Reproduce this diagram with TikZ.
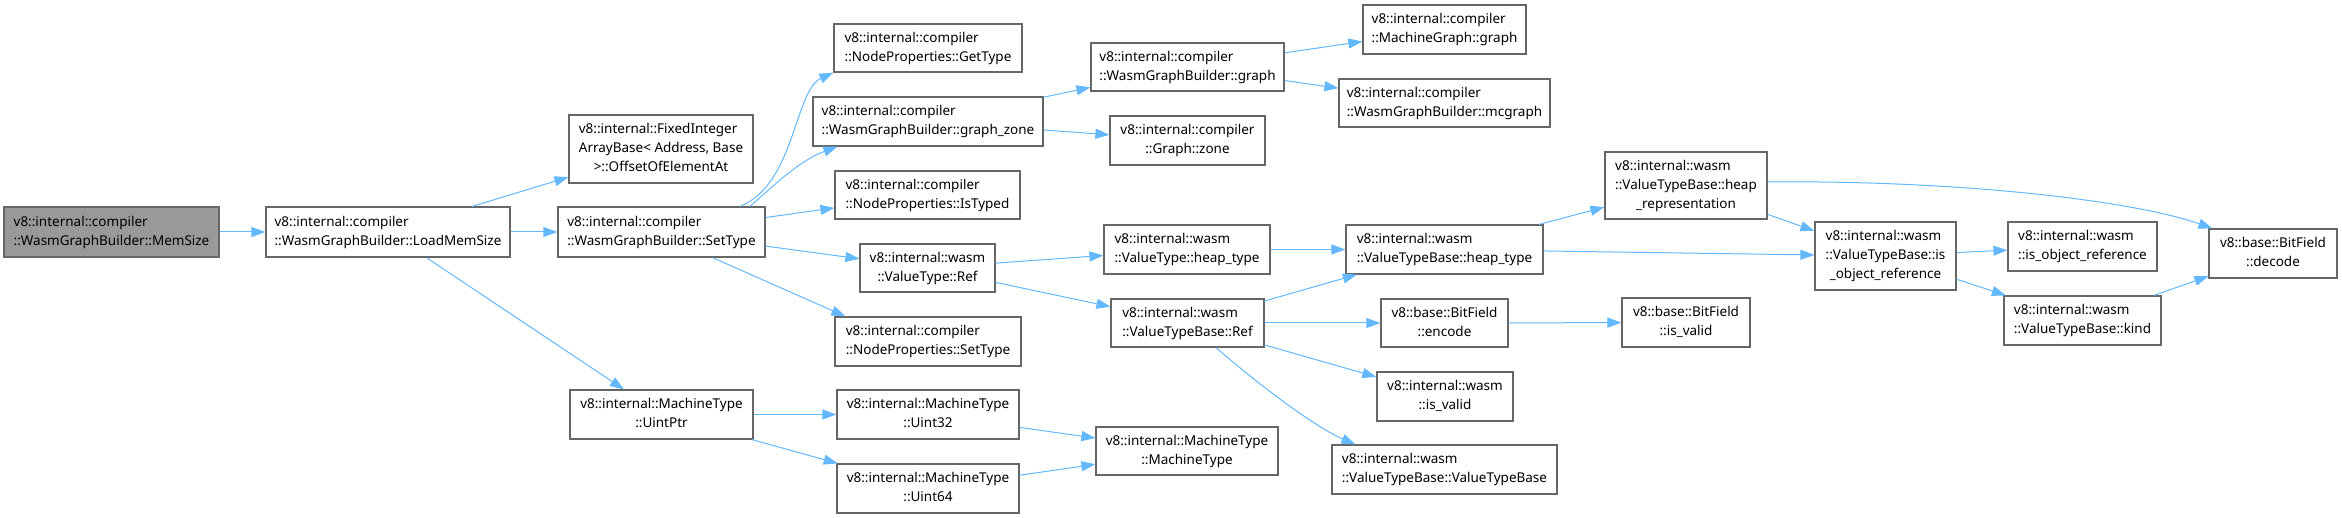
\documentclass[tikz,border=0pt]{standalone}
\usepackage{fontspec}
\setmainfont{Noto Sans}
\usetikzlibrary{arrows.meta}
\definecolor{edgeblue}{HTML}{63B8FF}
\definecolor{boxgray}{HTML}{666666}
\definecolor{fillgray}{HTML}{999999}
\newcommand{\twol}[2]{\begin{tabular}{@{}l@{}}#1\\\multicolumn{1}{@{}c@{}}{#2}\end{tabular}}
\newcommand{\threel}[3]{\begin{tabular}{@{}l@{}}#1\\#2\\\multicolumn{1}{@{}c@{}}{#3}\end{tabular}}
\begin{document}
\begin{tikzpicture}[x=1pt,y=-1pt,
  box/.style={draw=boxgray, line width=1.2pt, fill=white, inner sep=0pt, rectangle,
    font=\fontsize{13.5}{19}\selectfont, text=black},
  sz/.style 2 args={minimum width=#1pt, minimum height=#2pt},
  edge/.style={draw=edgeblue, line width=1pt, -{Triangle[length=14pt,width=10pt]}},
]
\useasboundingbox (0,0) rectangle (2342,518);

% column 1-2
\node[box, sz={215}{50}, fill=fillgray] (memsize) at (111.5,232) {\twol{v8::internal::compiler}{::WasmGraphBuilder::MemSize}};
\node[box, sz={244}{50}] (loadmem) at (388,232) {\twol{v8::internal::compiler}{::WasmGraphBuilder::LoadMemSize}};
% column 3
\node[box, sz={184}{68}] (fixedint) at (661,149) {\threel{v8::internal::FixedInteger}{ArrayBase< Address, Base}{>::OffsetOfElementAt}};
\node[box, sz={207}{50}] (settype) at (661.5,232) {\twol{v8::internal::compiler}{::WasmGraphBuilder::SetType}};
\node[box, sz={183}{49}] (uintptr) at (661.5,414.5) {\twol{v8::internal::MachineType}{::UintPtr}};
% column 4
\node[box, sz={188}{48}] (gettype) at (928,48) {\twol{v8::internal::compiler}{::NodeProperties::GetType}};
\node[box, sz={230}{49}] (graphzone) at (928,121.5) {\twol{v8::internal::compiler}{::WasmGraphBuilder::graph\_zone}};
\node[box, sz={185}{48}] (istyped) at (927.5,195) {\twol{v8::internal::compiler}{::NodeProperties::IsTyped}};
\node[box, sz={135}{48}] (vtref) at (927.5,268) {\twol{v8::internal::wasm}{::ValueType::Ref}};
\node[box, sz={186}{49}] (npsettype) at (928,341.5) {\twol{v8::internal::compiler}{::NodeProperties::SetType}};
\node[box, sz={182}{49}] (uint32) at (928,414.5) {\twol{v8::internal::MachineType}{::Uint32}};
\node[box, sz={182}{49}] (uint64) at (928,488.5) {\twol{v8::internal::MachineType}{::Uint64}};
% column 5
\node[box, sz={193}{48}] (wgbgraph) at (1187.5,67) {\twol{v8::internal::compiler}{::WasmGraphBuilder::graph}};
\node[box, sz={155}{49}] (gzone) at (1187.5,140.5) {\twol{v8::internal::compiler}{::Graph::zone}};
\node[box, sz={166}{49}] (vtheap) at (1187,249.5) {\twol{v8::internal::wasm}{::ValueType::heap\_type}};
\node[box, sz={153}{48}] (vtbref) at (1187.5,323) {\twol{v8::internal::wasm}{::ValueTypeBase::Ref}};
\node[box, sz={182}{48}] (mtmt) at (1187,451) {\twol{v8::internal::MachineType}{::MachineType}};
% column 6
\node[box, sz={163}{49}] (mggraph) at (1444.5,29.5) {\twol{v8::internal::compiler}{::MachineGraph::graph}};
\node[box, sz={211}{48}] (mcgraph) at (1444.5,103) {\twol{v8::internal::compiler}{::WasmGraphBuilder::mcgraph}};
\node[box, sz={197}{49}] (vtbheap) at (1444.5,249.5) {\twol{v8::internal::wasm}{::ValueTypeBase::heap\_type}};
\node[box, sz={127}{48}] (encode) at (1444.5,323) {\twol{v8::base::BitField}{::encode}};
\node[box, sz={136}{49}] (wisvalid) at (1445,396.5) {\twol{v8::internal::wasm}{::is\_valid}};
\node[box, sz={225}{49}] (vtbvtb) at (1444.5,469.5) {\twol{v8::internal::wasm}{::ValueTypeBase::ValueTypeBase}};
% column 7
\node[box, sz={162}{67}] (heaprep) at (1686,185.5) {\threel{v8::internal::wasm}{::ValueTypeBase::heap}{\_representation}};
\node[box, sz={128}{49}] (bfisvalid) at (1686,322.5) {\twol{v8::base::BitField}{::is\_valid}};
% column 8
\node[box, sz={141}{68}] (vtbisobj) at (1885.5,256) {\threel{v8::internal::wasm}{::ValueTypeBase::is}{\_object\_reference}};
% column 9
\node[box, sz={149}{49}] (wisobj) at (2082.5,246.5) {\twol{v8::internal::wasm}{::is\_object\_reference}};
\node[box, sz={157}{49}] (kind) at (2082.5,320.5) {\twol{v8::internal::wasm}{::ValueTypeBase::kind}};
% column 10
\node[box, sz={128}{49}] (decode) at (2273,253.5) {\twol{v8::base::BitField}{::decode}};

% edges
\draw[edge] (memsize) -- (loadmem);
\draw[edge] (loadmem) -- (fixedint);
\draw[edge] (loadmem) -- (settype);
\draw[edge] (loadmem) -- (uintptr);
\draw[edge] ([xshift=78.5pt]settype.north) .. controls +(55,-22) and +(-39,18) .. (gettype.south west);
\draw[edge] ([xshift=88.5pt]settype.north) .. controls +(25,-22) and +(-38,14) .. ([xshift=25pt]graphzone.south west);
\draw[edge] (settype) -- (istyped);
\draw[edge] (settype) -- (vtref);
\draw[edge] ([xshift=51pt]settype.south) -- ([xshift=11pt]npsettype.north west);
\draw[edge] (graphzone) -- (wgbgraph);
\draw[edge] (graphzone) -- (gzone);
\draw[edge] (wgbgraph) -- (mggraph);
\draw[edge] (wgbgraph) -- (mcgraph);
\draw[edge] (vtref) -- (vtheap);
\draw[edge] (vtref) -- (vtbref);
\draw[edge] (vtheap) -- (vtbheap);
\draw[edge] (vtbref) -- (vtbheap);
\draw[edge] (vtbref) -- (encode);
\draw[edge] (vtbref) -- (wisvalid);
\draw[edge] ([xshift=28.5pt]vtbref.south) .. controls +(40,35) and +(-40,-17) .. ([xshift=24pt]vtbvtb.north west);
\draw[edge] (vtbheap) -- (heaprep);
\draw[edge] (vtbheap) -- (vtbisobj);
\draw[edge] (encode) -- (bfisvalid);
\draw[edge] ([yshift=3.5pt]heaprep.east) .. controls +(183,-2) and +(-83,-29) .. ([xshift=4pt]decode.north west);
\draw[edge] (heaprep) -- (vtbisobj);
\draw[edge] (vtbisobj) -- (wisobj);
\draw[edge] (vtbisobj) -- (kind);
\draw[edge] (kind) -- (decode);
\draw[edge] (uintptr) -- (uint32);
\draw[edge] (uintptr) -- (uint64);
\draw[edge] (uint32) -- (mtmt);
\draw[edge] (uint64) -- (mtmt);
\end{tikzpicture}
\end{document}
